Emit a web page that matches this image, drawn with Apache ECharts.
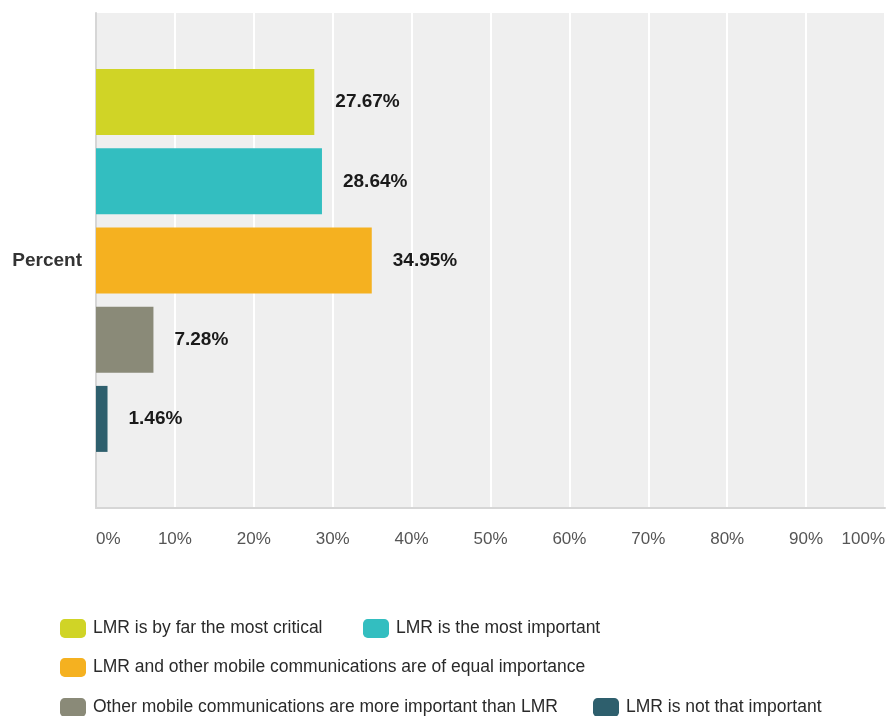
<!DOCTYPE html>
<html>
<head>
<meta charset="utf-8">
<script src="https://cdn.jsdelivr.net/npm/echarts@6/dist/echarts.min.js"></script>
<style>
html,body{margin:0;padding:0;background:#fff;}
#chart{width:888px;height:716px;}
</style>
</head>
<body>
<div id="chart"></div>
<script>
var categories = ['Percent'];
var seriesNames = [
  'LMR is by far the most critical',
  'LMR is the most important',
  'LMR and other mobile communications are of equal importance',
  'Other mobile communications are more important than LMR',
  'LMR is not that important'
];
var seriesValues = [27.67, 28.64, 34.95, 7.28, 1.46];
var seriesColors = ['#d0d426', '#33bec0', '#f5b120', '#8a8a78', '#2e5f6d'];
var xTicks = [0, 10, 20, 30, 40, 50, 60, 70, 80, 90, 100];

var FONT = '"Liberation Sans", Arial, sans-serif';
var chart = echarts.init(document.getElementById('chart'), null, {renderer: 'canvas'});

var series = seriesNames.map(function (name, i) {
  return {
    type: 'bar',
    name: name,
    data: [seriesValues[i]],
    barWidth: 66,
    barGap: '20%',
    itemStyle: {color: seriesColors[i]},
    label: {
      show: true,
      position: 'right',
      distance: 21,
      formatter: '{c}%',
      fontFamily: FONT,
      fontSize: 19,
      fontWeight: 'bold',
      color: '#1a1a1a'
    },
    emphasis: {disabled: true},
    animation: false
  };
});

function legendFor(idx, left, top) {
  return {
    data: [seriesNames[idx]],
    left: left,
    top: top,
    padding: 0,
    itemWidth: 26,
    itemHeight: 19,
    icon: 'roundRect',
    selectedMode: false,
    textStyle: {fontFamily: FONT, fontSize: 17.5, color: '#2a2a2a', padding: [0, 0, 0, 2]}
  };
}

chart.setOption({
  backgroundColor: '#ffffff',
  animation: false,
  grid: {
    left: 96, right: 0, top: 13, bottom: 208,
    show: true, backgroundColor: '#efefef', borderWidth: 0
  },
  legend: [
    legendFor(0, 60, 619),
    legendFor(1, 363, 619),
    legendFor(2, 60, 658),
    legendFor(3, 60, 698),
    legendFor(4, 593, 698)
  ],
  xAxis: {
    type: 'value',
    min: xTicks[0],
    max: xTicks[xTicks.length - 1],
    interval: 10,
    axisLine: {show: true, lineStyle: {color: '#d6d6d6', width: 2}},
    axisTick: {show: false},
    splitLine: {show: true, lineStyle: {color: '#ffffff', width: 2}},
    axisLabel: {
      formatter: '{value}%',
      fontFamily: FONT,
      fontSize: 17,
      color: '#555',
      margin: 23,
      alignMinLabel: 'left',
      alignMaxLabel: 'right'
    }
  },
  yAxis: {
    type: 'category',
    data: categories,
    inverse: true,
    axisLine: {show: true, lineStyle: {color: '#d6d6d6', width: 2}},
    axisTick: {show: false},
    axisLabel: {
      fontFamily: FONT,
      fontSize: 19,
      fontWeight: 'bold',
      color: '#333',
      margin: 14
    }
  },
  series: series
});
</script>
</body>
</html>
